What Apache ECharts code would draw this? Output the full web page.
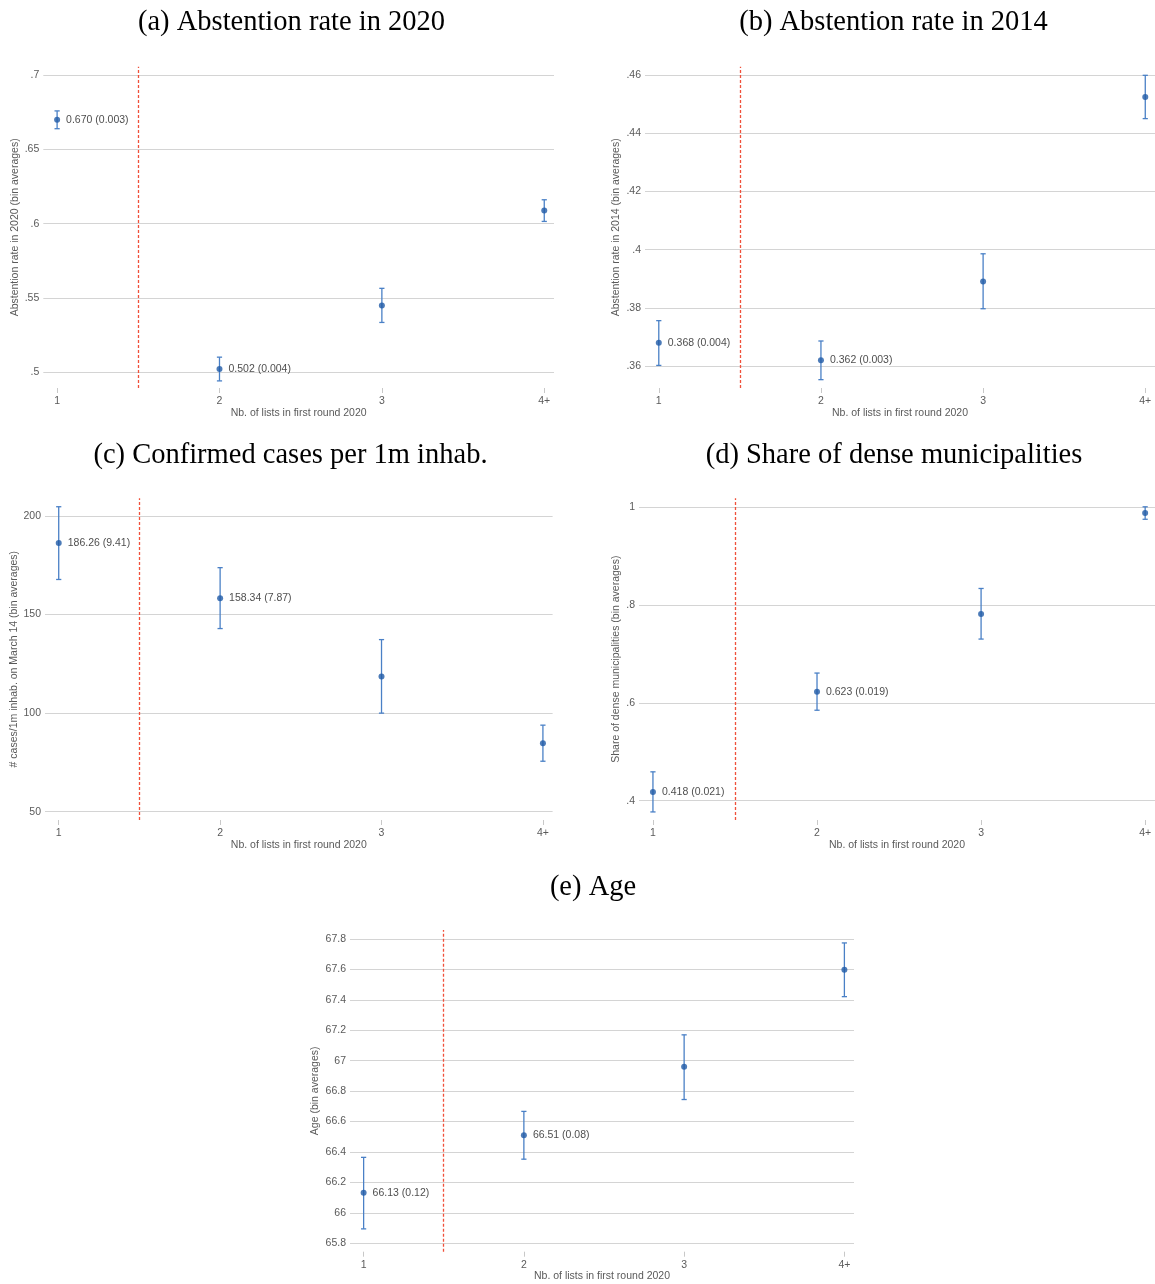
<!DOCTYPE html>
<html>
<head>
<meta charset="utf-8">
<script src="https://cdn.jsdelivr.net/npm/echarts@6/dist/echarts.min.js"></script>
<style>
html,body{margin:0;padding:0;background:#fff;}
#chart{width:1155px;height:1284px;}
</style>
</head>
<body>
<div id="chart"></div>
<script>
// ---- categories / shared ----
const categories = ["1", "2", "3", "4+"];
const catPos = [1, 2, 3, 4];
const cutoff = 1.5;
const xAxisName = "Nb. of lists in first round 2020";

// ---- panel titles ----
const panelTitles = [
  "(a) Abstention rate in 2020",
  "(b) Abstention rate in 2014",
  "(c) Confirmed cases per 1m inhab.",
  "(d) Share of dense municipalities",
  "(e) Age"
];
const yNames = [
  "Abstention rate in 2020 (bin averages)",
  "Abstention rate in 2014 (bin averages)",
  "# cases/1m inhab. on March 14 (bin averages)",
  "Share of dense municipalities (bin averages)",
  "Age (bin averages)"
];

// ---- (a) abstention 2020 ----
const aEst = [0.670, 0.502, 0.5449, 0.6088];
const aLo  = [0.664, 0.494, 0.5334, 0.6015];
const aHi  = [0.676, 0.510, 0.5564, 0.6161];
const aLabels = ["0.670 (0.003)", "0.502 (0.004)", "", ""];
const aTicks = [0.5, 0.55, 0.6, 0.65, 0.7];
const aTickText = [".5", ".55", ".6", ".65", ".7"];

// ---- (b) abstention 2014 ----
const bEst = [0.368, 0.362, 0.3891, 0.4525];
const bLo  = [0.3602, 0.3553, 0.3797, 0.4451];
const bHi  = [0.3756, 0.3686, 0.3986, 0.4600];
const bLabels = ["0.368 (0.004)", "0.362 (0.003)", "", ""];
const bTicks = [0.36, 0.38, 0.40, 0.42, 0.44, 0.46];
const bTickText = [".36", ".38", ".4", ".42", ".44", ".46"];

// ---- (c) confirmed cases ----
const cEst = [186.26, 158.34, 118.6, 84.7];
const cLo  = [167.8, 142.9, 100.0, 75.6];
const cHi  = [204.7, 173.8, 137.3, 93.9];
const cLabels = ["186.26 (9.41)", "158.34 (7.87)", "", ""];
const cTicks = [50, 100, 150, 200];
const cTickText = ["50", "100", "150", "200"];

// ---- (d) dense municipalities ----
const dEst = [0.418, 0.623, 0.7816, 0.9884];
const dLo  = [0.377, 0.585, 0.7305, 0.9755];
const dHi  = [0.459, 0.661, 0.834, 1.001];
const dLabels = ["0.418 (0.021)", "0.623 (0.019)", "", ""];
const dTicks = [0.4, 0.6, 0.8, 1.0];
const dTickText = [".4", ".6", ".8", "1"];

// ---- (e) age ----
const eEst = [66.133, 66.51, 66.96, 67.598];
const eLo  = [65.895, 66.353, 66.745, 67.421];
const eHi  = [66.365, 66.667, 67.17, 67.774];
const eLabels = ["66.13 (0.12)", "66.51 (0.08)", "", ""];
const eTicks = [65.8, 66.0, 66.2, 66.4, 66.6, 66.8, 67.0, 67.2, 67.4, 67.6, 67.8];
const eTickText = ["65.8", "66", "66.2", "66.4", "66.6", "66.8", "67", "67.2", "67.4", "67.6", "67.8"];

// ---- layout (pixels) and axis extents ----
const panels = [
  {est:aEst, lo:aLo, hi:aHi, labels:aLabels, ticks:aTicks, tickText:aTickText,
   grid:{left:43.3, top:66.7, width:510.7, height:321.3}, yMin:0.48921, yMax:0.70580, nameGap:23,
   title:{x:291.5, y:19}},
  {est:bEst, lo:bLo, hi:bHi, labels:bLabels, ticks:bTicks, tickText:bTickText,
   grid:{left:645, top:66.7, width:511, height:321.3}, yMin:0.35243, yMax:0.46296, nameGap:23,
   title:{x:893.5, y:19}},
  {est:cEst, lo:cLo, hi:cHi, labels:cLabels, ticks:cTicks, tickText:cTickText,
   grid:{left:45, top:498.3, width:507.6, height:321.7}, yMin:45.79, yMax:208.98, nameGap:25,
   title:{x:290.5, y:452}},
  {est:dEst, lo:dLo, hi:dHi, labels:dLabels, ticks:dTicks, tickText:dTickText,
   grid:{left:639, top:498.3, width:517.7, height:321.7}, yMin:0.3605, yMax:1.0184, nameGap:17,
   title:{x:894, y:452}},
  {est:eEst, lo:eLo, hi:eHi, labels:eLabels, ticks:eTicks, tickText:eTickText,
   grid:{left:350, top:930, width:504, height:321.7}, yMin:65.745, yMax:67.859, nameGap:29,
   title:{x:593, y:884}}
];
const xMin = 0.915, xMax = 4.06;

const SANS = "Liberation Sans, Arial, sans-serif";
const SERIF = "Liberation Serif, Times New Roman, serif";
const DOT = "#1f5aa6";
const BAR = "#4a80c6";
const GRIDC = "#d4d4d4";
const TXT = "#5a5a5a";
const RED = "#f0503a";

function errRender(params, api) {
  const x = api.value(0), lo = api.value(1), hi = api.value(2);
  const p1 = api.coord([x, lo]), p2 = api.coord([x, hi]);
  const w = 2.6;
  const style = {stroke: BAR, lineWidth: 1.3};
  return {type: 'group', children: [
    {type: 'line', shape: {x1: p1[0], y1: p1[1], x2: p2[0], y2: p2[1]}, style: style},
    {type: 'line', shape: {x1: p1[0] - w, y1: p1[1], x2: p1[0] + w, y2: p1[1]}, style: style},
    {type: 'line', shape: {x1: p2[0] - w, y1: p2[1], x2: p2[0] + w, y2: p2[1]}, style: style}
  ]};
}

const option = {
  backgroundColor: '#fff',
  animation: false,
  title: [], grid: [], xAxis: [], yAxis: [], series: []
};

panels.forEach((p, i) => {
  option.title.push({
    text: panelTitles[i], left: p.title.x, top: p.title.y - 11, textAlign: 'center', padding: 0,
    textStyle: {fontFamily: SERIF, fontSize: 28.5, fontWeight: 'normal', color: '#000'}
  });
  option.grid.push(Object.assign({containLabel: false}, p.grid));
  option.xAxis.push({
    type: 'value', gridIndex: i, min: xMin, max: xMax,
    name: xAxisName, nameLocation: 'middle', nameGap: 19,
    nameTextStyle: {fontFamily: SANS, fontSize: 10.5, color: TXT},
    axisLine: {show: false},
    axisTick: {show: true, length: 5, customValues: catPos, lineStyle: {color: '#c8c8c8', width: 1}},
    axisLabel: {customValues: catPos, margin: 7.5, fontFamily: SANS, fontSize: 10.5, color: TXT,
      formatter: v => { const k = catPos.indexOf(Math.round(v)); return k >= 0 ? categories[k] : ''; }},
    splitLine: {show: false}
  });
  option.yAxis.push({
    type: 'value', gridIndex: i, min: p.yMin, max: p.yMax,
    name: yNames[i], nameLocation: 'middle', nameGap: p.nameGap,
    nameTextStyle: {fontFamily: SANS, fontSize: 10.5, color: TXT},
    axisLine: {show: false},
    axisTick: {show: false, customValues: p.ticks},
    axisLabel: {customValues: p.ticks, margin: 4, fontFamily: SANS, fontSize: 10.5, color: TXT,
      formatter: v => {
        let best = -1, bd = Infinity;
        p.ticks.forEach((t, k) => { const d = Math.abs(t - v); if (d < bd) { bd = d; best = k; } });
        return best >= 0 ? p.tickText[best] : '';
      }},
    splitLine: {show: true, lineStyle: {color: GRIDC, width: 1}}
  });
  option.series.push({
    type: 'custom', xAxisIndex: i, yAxisIndex: i, renderItem: errRender, z: 2,
    encode: {x: 0, y: [1, 2]},
    data: catPos.map((x, k) => [x, p.lo[k], p.hi[k]])
  });
  option.series.push({
    type: 'scatter', xAxisIndex: i, yAxisIndex: i, z: 3,
    symbol: 'circle', symbolSize: 6,
    itemStyle: {color: DOT},
    label: {show: true, position: 'right', distance: 6, fontFamily: SANS, fontSize: 10.5, color: '#1a1a1a',
      formatter: prm => p.labels[prm.dataIndex]},
    data: catPos.map((x, k) => [x, p.est[k]]),
    markLine: {
      silent: true, symbol: ['none', 'none'], animation: false,
      label: {show: false},
      lineStyle: {type: [3, 2], color: RED, width: 1.3, opacity: 1},
      data: [{xAxis: cutoff}]
    }
  });
});

const chart = echarts.init(document.getElementById('chart'), null, {renderer: 'canvas'});
chart.setOption(option);
</script>
</body>
</html>
